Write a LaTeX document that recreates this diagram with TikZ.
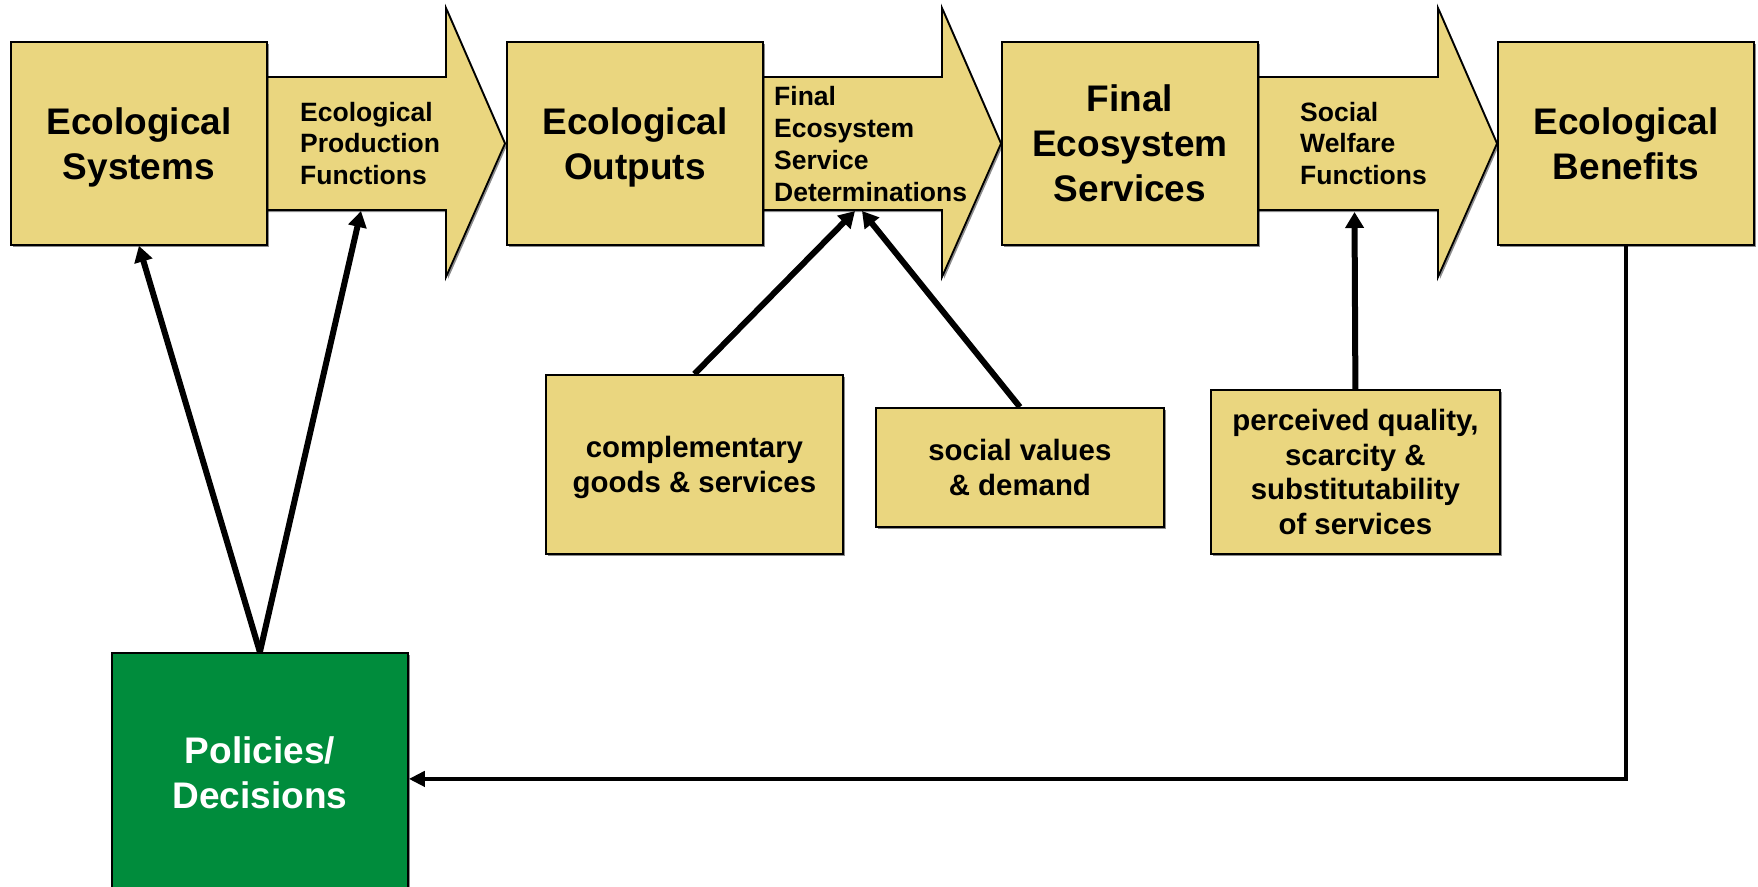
\documentclass[tikz,border=0pt]{standalone}
\usepackage{fontspec}
\setmainfont{Liberation Sans}
\usetikzlibrary{arrows.meta,shadows,calc}
\definecolor{boxyellow}{RGB}{234,214,127}
\definecolor{polgreen}{RGB}{0,140,60}
\begin{document}
\begin{tikzpicture}[x=1pt,y=-1pt,
  shad/.style={drop shadow={shadow xshift=2pt,shadow yshift=-2pt,fill=black,opacity=0.45}},
  ybox/.style={draw=black, line width=1.8pt, fill=boxyellow, shad, inner sep=0pt, anchor=north west, align=center, text depth=0pt},
  bigbox/.style={ybox, minimum width=256pt, minimum height=203pt, font=\fontsize{37}{45}\selectfont\bfseries},
  lowbox/.style={ybox, font=\fontsize{29.4}{34.8}\selectfont\bfseries},
  arrowtext/.style={anchor=west, align=left, inner sep=0pt, font=\fontsize{26.5}{31.7}\selectfont\bfseries},
  blockarrow/.style={draw=black, line width=1.8pt, fill=boxyellow, line join=miter, shad},
  conn/.style={line width=6pt, -{Triangle[length=16pt,width=18pt]}},
  feedback/.style={line width=4.5pt, -{Triangle[length=16pt,width=15pt]}}
]
\useasboundingbox (0,0) rectangle (1758,886);
\clip (0,0) rectangle (1758,886);

% block arrows
\draw[blockarrow] (266,77) -- (446,77) -- (446,8) -- (505,143.5) -- (446,277) -- (446,210) -- (266,210) -- cycle;
\draw[blockarrow] (762,77) -- (942,77) -- (942,8) -- (1001,143.5) -- (942,277) -- (942,210) -- (762,210) -- cycle;
\draw[blockarrow] (1257,77) -- (1438,77) -- (1438,8) -- (1497,143.5) -- (1438,277) -- (1438,210) -- (1257,210) -- cycle;

% main boxes
\node[bigbox] (es) at (10,41) {Ecological\\Systems};
\node[bigbox] (eo) at (506,41) {Ecological\\Outputs};
\node[bigbox] (fes) at (1001,41) {Final\\Ecosystem\\Services};
\node[bigbox] (eb) at (1497,41) {Ecological\\Benefits};

% arrow texts
\node[arrowtext] (epf) at (300,143.5) {Ecological\\Production\\Functions};
\node[arrowtext] (fesd) at (774,144) {Final\\Ecosystem\\Service\\Determinations};
\node[arrowtext] (swf) at (1300,143.5) {Social\\Welfare\\Functions};

% lower boxes
\node[lowbox, minimum width=297pt, minimum height=179pt] (cg) at (545,374) {complementary\\goods \& services};
\node[lowbox, minimum width=288pt, minimum height=119pt] (sv) at (875,407) {social values\\\& demand};
\node[lowbox, minimum width=289pt, minimum height=164pt] (pq) at (1210,389) {perceived quality,\\scarcity \&\\substitutability\\of services};

% policies box
\node[draw=black, line width=1.8pt, fill=polgreen, shad, inner sep=0pt, anchor=north west,
      minimum width=296pt, minimum height=240pt, align=center, text=white, text depth=0pt,
      font=\fontsize{37}{45}\selectfont\bfseries] (pol) at (111,652) {Policies/\\Decisions};

% target points on arrow shafts
\coordinate (t1) at (361,211);
\coordinate (t2a) at (855,211);
\coordinate (t2b) at (862,211);
\coordinate (t3) at (1354.5,212);
\coordinate (fbin) at ($(pol.east)+(0,6)$);

% connectors
\draw[conn] (pol.north) -- (es.south);
\draw[conn] (pol.north) -- (t1);
\draw[conn] (cg.north) -- (t2a);
\draw[conn] (sv.north) -- (t2b);
\draw[conn] (pq.north) -- (t3);
\draw[feedback] (eb.south) |- (fbin);
\end{tikzpicture}
\end{document}
